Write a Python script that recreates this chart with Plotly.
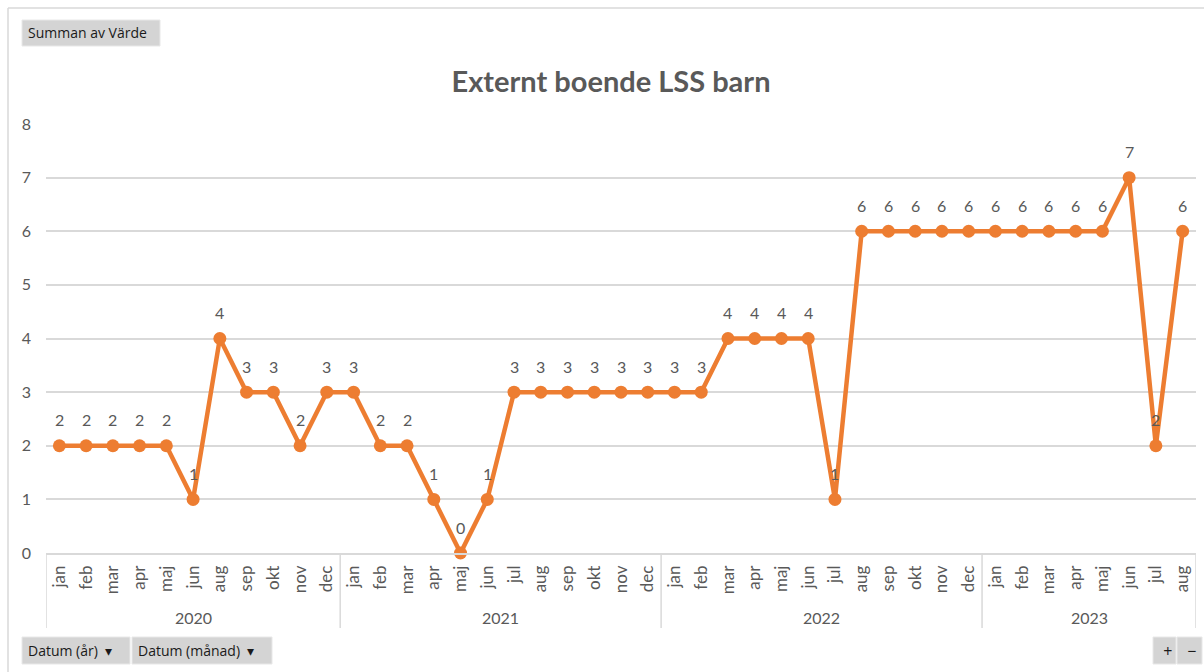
import plotly.graph_objects as go

# data
years = ["2020", "2021", "2022", "2023"]
months_by_year = [
    ["jan", "feb", "mar", "apr", "maj", "jun", "aug", "sep", "okt", "nov", "dec"],
    ["jan", "feb", "mar", "apr", "maj", "jun", "jul", "aug", "sep", "okt", "nov", "dec"],
    ["jan", "feb", "mar", "apr", "maj", "jun", "jul", "aug", "sep", "okt", "nov", "dec"],
    ["jan", "feb", "mar", "apr", "maj", "jun", "jul", "aug"],
]
values_2020 = [2, 2, 2, 2, 2, 1, 4, 3, 3, 2, 3]
values_2021 = [3, 2, 2, 1, 0, 1, 3, 3, 3, 3, 3, 3]
values_2022 = [3, 3, 4, 4, 4, 4, 1, 6, 6, 6, 6, 6]
values_2023 = [6, 6, 6, 6, 6, 7, 2, 6]
y_ticks = [0, 1, 2, 3, 4, 5, 6, 7, 8]

values = values_2020 + values_2021 + values_2022 + values_2023
months = [m for ms in months_by_year for m in ms]
xs = list(range(len(values)))

ORANGE = "#ED7D31"
GREY_TXT = "#595959"
GRID = "#d9d9d9"
FONT = "Lato"

# plot area in pixels (for placing the excel-like decorations)
W, H = 1204, 672
L, R, T, B = 46, 1196, 124, 553


def px(x):
    return (x - L) / (R - L)


def py(y):
    return (B - y) / (B - T)


fig = go.Figure()
fig.add_trace(go.Scatter(
    x=xs, y=values, mode="lines+markers",
    line=dict(color=ORANGE, width=4.5),
    marker=dict(color=ORANGE, size=13),
    cliponaxis=False, showlegend=False, hoverinfo="y",
))

annotations = []
# data labels
for x, v in zip(xs, values):
    annotations.append(dict(x=x, y=v, text=str(v), showarrow=False, yshift=26,
                            font=dict(size=16, color=GREY_TXT, family=FONT)))

# year group labels and dividers
shapes = []
start = 0
bounds = [-0.5]
for yr, ms in zip(years, months_by_year):
    end = start + len(ms)
    annotations.append(dict(x=(start + end - 1) / 2, y=py(617), xref="x", yref="paper",
                            yanchor="middle", text=yr, showarrow=False,
                            font=dict(size=16, color=GREY_TXT, family=FONT)))
    bounds.append(end - 0.5)
    start = end
for b in bounds:
    shapes.append(dict(type="line", xref="x", yref="paper", x0=b, x1=b, y0=0, y1=py(628),
                       line=dict(color=GRID, width=1.5)))

# chart frame
shapes.append(dict(type="line", xref="paper", yref="paper", x0=px(8), x1=px(W), y0=py(8), y1=py(8),
                   line=dict(color=GRID, width=1.5)))
shapes.append(dict(type="line", xref="paper", yref="paper", x0=px(8), x1=px(8), y0=py(8), y1=py(H),
                   line=dict(color=GRID, width=1.5)))


# pivot field buttons
def button(x0, y0, x1, y1, label, size=15):
    shapes.append(dict(type="rect", xref="paper", yref="paper",
                       x0=px(x0), x1=px(x1), y0=py(y1), y1=py(y0),
                       fillcolor="#d4d4d4", line=dict(color="#e8e8e8", width=1)))
    annotations.append(dict(x=px(x0 + 4), y=py((y0 + y1) / 2), xref="paper", yref="paper",
                            xanchor="left", yanchor="middle", text=label, showarrow=False,
                            font=dict(size=size, color="#1a1a1a", family="Open Sans")))


button(22, 20, 160, 46, "Summan av Värde", 14)
button(22, 637, 130, 664, "Datum (år)  ▾", 14)
button(132, 637, 272, 664, "Datum (månad)  ▾", 14)
button(1153, 637, 1176, 664, " +", 16)
button(1177, 637, 1202, 664, " −", 16)

fig.update_layout(
    width=W, height=H,
    margin=dict(l=L, r=W - R, t=T, b=H - B),
    plot_bgcolor="#ffffff", paper_bgcolor="#ffffff",
    title=dict(text="<b>Externt boende LSS barn</b>", xref="container", x=611 / W, xanchor="center",
               yref="container", y=1 - 82 / H, yanchor="middle",
               font=dict(size=29, color=GREY_TXT, family=FONT)),
    annotations=annotations, shapes=shapes,
    font=dict(family=FONT, color=GREY_TXT),
)
fig.update_xaxes(range=[-0.5, len(values) - 0.5], tickmode="array", tickvals=xs, ticktext=months,
                 tickangle=-90, tickfont=dict(size=17, color=GREY_TXT, family=FONT),
                 showgrid=False, zeroline=False, showline=True, linecolor=GRID, linewidth=1.5,
                 ticks="", ticklabelstandoff=4)
fig.update_yaxes(range=[0, 8], tickmode="array", tickvals=y_ticks,
                 tickfont=dict(size=16, color=GREY_TXT, family=FONT),
                 showgrid=True, gridcolor=GRID, gridwidth=1.5, zeroline=False, showline=False,
                 ticks="", ticklabelstandoff=14)

fig.write_html("out.html", config={"displayModeBar": False},
               post_script="document.body.style.margin='0';")
